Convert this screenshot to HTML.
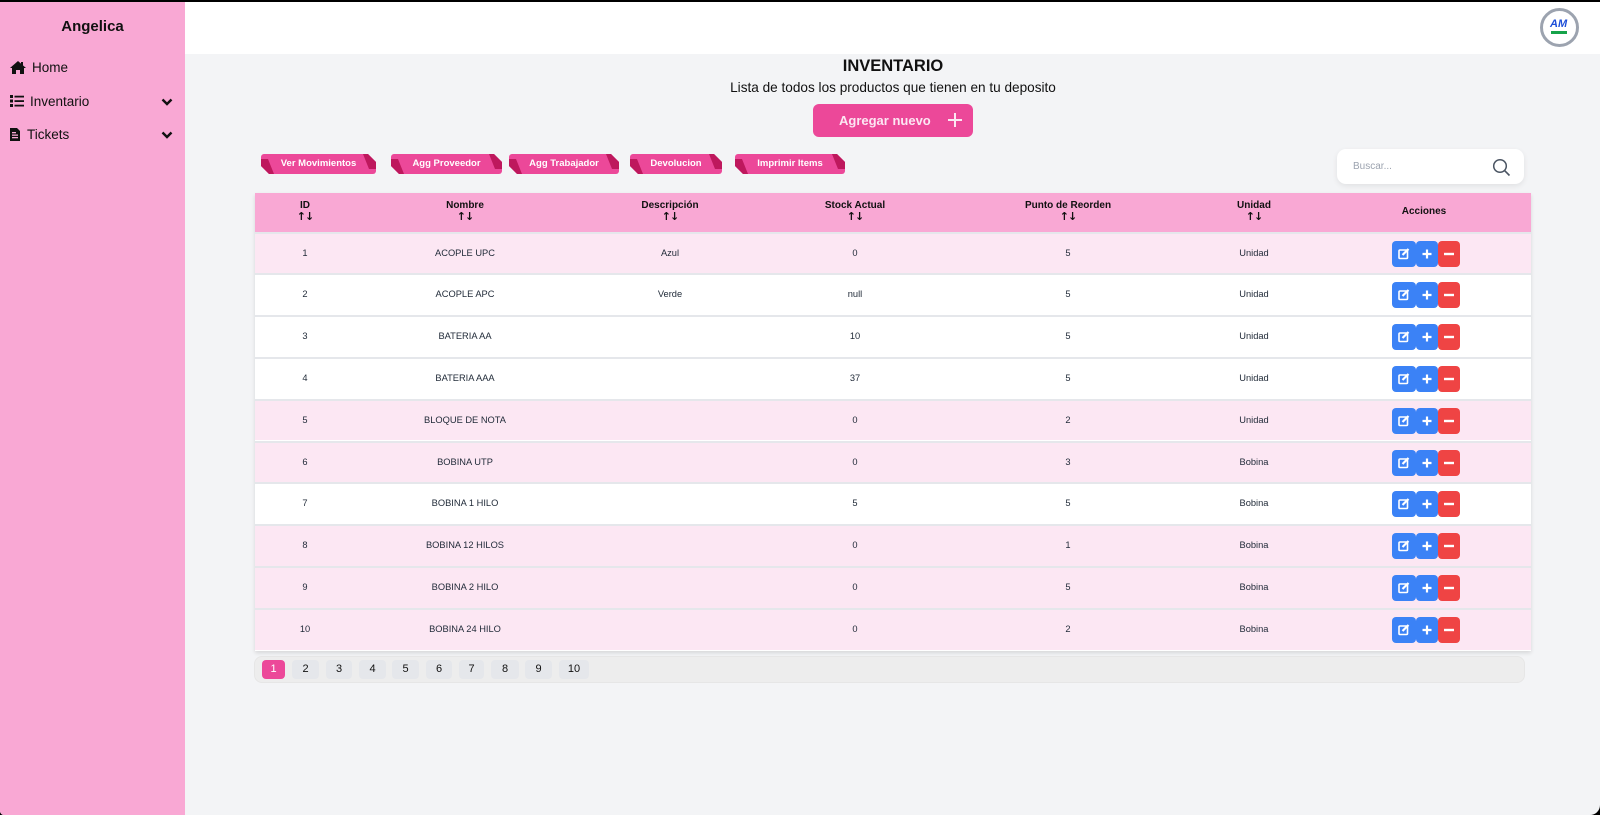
<!DOCTYPE html>
<html><head><meta charset="utf-8">
<style>
*{margin:0;padding:0;box-sizing:border-box}
html,body{width:1600px;height:815px;overflow:hidden;background:#000;font-family:"Liberation Sans",sans-serif}
#page{position:absolute;left:0;top:2px;width:1600px;height:813px;background:#f3f4f6;border-bottom-right-radius:10px;border-bottom-left-radius:4px;overflow:hidden}
#side{position:absolute;left:0;top:0;width:185px;height:813px;background:#f9a8d4}
#side .title{position:absolute;left:0;width:185px;top:16px;text-align:center;font-weight:bold;font-size:15px;color:#111}
#side .item{position:absolute;left:10px;font-size:13.5px;color:#111;display:flex;align-items:center}
#side .chev{position:absolute;left:161px}
#header{position:absolute;left:185px;top:0;width:1415px;height:52px;background:#fff}
.abs{position:absolute}
.ribbon{position:absolute;top:152px;height:20px;color:#fff;font-weight:bold;font-size:9.5px;text-align:center;line-height:20px}
.ribbon .body{position:absolute;inset:0;background:#ec4899;border-radius:3px;clip-path:polygon(0 0,calc(100% - 8px) 0,100% 8px,100% 100%,8px 100%,0 calc(100% - 8px))}
.ribbon .lf{position:absolute;left:0;top:5px;width:13px;height:15px;background:#be185d;clip-path:polygon(0 0,7px 0,13px 15px,8px 15px,0 7px)}
.ribbon .rf{position:absolute;right:0;top:0;width:13px;height:15px;background:#be185d;clip-path:polygon(0 0,5px 0,13px 8px,13px 15px,6px 15px)}
.ribbon span{position:relative}
#table{position:absolute;left:255px;top:190.5px;width:1276px;height:458px;background:#fff;box-shadow:0 2px 4px rgba(0,0,0,0.12)}
.hrow{position:absolute;left:0;top:0;width:1276px;height:39px;background:#f9a8d4}
.row{position:absolute;left:0;width:1276px;height:41.8px;border-top:2px solid #e5e7eb}
.cell{position:absolute;top:0;height:39.8px;line-height:39.8px;text-align:center;font-size:9.3px;color:#1f2937}
.hcell{position:absolute;top:0;height:39px;text-align:center;font-size:10px;font-weight:bold;color:#111}
.hcell .l{position:absolute;left:0;right:0;top:7px}
.hcell .a{position:absolute;left:0;right:0;top:17px;font-size:11px;font-family:"DejaVu Sans",sans-serif;font-weight:bold;letter-spacing:-1px}
.btns{position:absolute;left:1137px;top:7px;width:70px;height:26px}
.b{position:absolute;top:0;height:26px;border-radius:4px;color:#fff;text-align:center}
.pg{position:absolute;top:658px;height:19px;background:#e5e7eb;border-radius:4px;font-size:11px;line-height:19px;text-align:center;color:#111}
</style></head><body>
<div id="page">
  <div id="header"></div>
  <div id="side">
    <div class="title">Angelica</div>
    <div class="item" style="top:58px">
      <svg width="16" height="13" viewBox="0 0 16 13"><path d="M8 0 L16 7 L14 7 L14 13 L10 13 L10 9 L6 9 L6 13 L2 13 L2 7 L0 7 Z" fill="#111"/><rect x="11" y="1" width="2" height="4" fill="#111"/></svg>
      <span style="margin-left:6px">Home</span>
    </div>
    <div class="item" style="top:91.5px">
      <svg width="14" height="12" viewBox="0 0 14 12"><rect x="0" y="0" width="3" height="3" fill="#111"/><rect x="0" y="4.5" width="3" height="3" fill="#111"/><rect x="0" y="9" width="3" height="3" fill="#111"/><rect x="4.5" y="0.7" width="9.5" height="1.8" fill="#111"/><rect x="4.5" y="5.2" width="9.5" height="1.8" fill="#111"/><rect x="4.5" y="9.7" width="9.5" height="1.8" fill="#111"/></svg>
      <span style="margin-left:6px">Inventario</span>
    </div>
    <svg class="chev" style="top:96px" width="12" height="8" viewBox="0 0 12 8"><path d="M1.5 1.5 L6 6 L10.5 1.5" stroke="#111" stroke-width="2.4" fill="none"/></svg>
    <div class="item" style="top:125px">
      <svg width="10" height="13" viewBox="0 0 10 13"><path d="M0 0 H7 L10 3 V13 H0 Z" fill="#111"/><rect x="2" y="4" width="4" height="1.3" fill="#f9a8d4"/><rect x="2" y="6.5" width="6" height="1.3" fill="#f9a8d4"/><rect x="2" y="9" width="6" height="1.3" fill="#f9a8d4"/></svg>
      <span style="margin-left:7px">Tickets</span>
    </div>
    <svg class="chev" style="top:129px" width="12" height="8" viewBox="0 0 12 8"><path d="M1.5 1.5 L6 6 L10.5 1.5" stroke="#111" stroke-width="2.4" fill="none"/></svg>
  </div>

  <!-- logo -->
  <div class="abs" style="left:1540px;top:6px;width:39px;height:39px;border-radius:50%;border:3px solid #9ca3af;background:#fff"></div>
  <div class="abs" style="left:1550px;top:16px;font-size:11px;font-weight:bold;font-style:italic;color:#1d4ed8">AM</div>
  <div class="abs" style="left:1551px;top:29px;width:16px;height:3px;background:#16a34a"></div>

  <div class="abs" style="left:0;width:1786px;top:55px;text-align:center;font-size:16.5px;font-weight:bold;color:#111">INVENTARIO</div>
  <div class="abs" style="left:0;width:1786px;top:78px;text-align:center;font-size:13.6px;color:#111">Lista de todos los productos que tienen en tu deposito</div>

  <div class="abs" style="left:813px;top:102px;width:160px;height:33px;background:#ec4899;border-radius:6px"></div>
  <div class="abs" style="left:839px;top:111px;font-size:13px;font-weight:bold;color:#fce7f3">Agregar nuevo</div>
  <div class="abs" style="left:948px;top:117px;width:14px;height:2px;background:#fce7f3"></div>
  <div class="abs" style="left:954px;top:111px;width:2px;height:14px;background:#fce7f3"></div>

  <div class="ribbon" style="left:261px;width:115px"><div class="body"></div><div class="lf"></div><div class="rf"></div><span>Ver Movimientos</span></div>
  <div class="ribbon" style="left:391px;width:111px"><div class="body"></div><div class="lf"></div><div class="rf"></div><span>Agg Proveedor</span></div>
  <div class="ribbon" style="left:509px;width:110px"><div class="body"></div><div class="lf"></div><div class="rf"></div><span>Agg Trabajador</span></div>
  <div class="ribbon" style="left:630px;width:92px"><div class="body"></div><div class="lf"></div><div class="rf"></div><span>Devolucion</span></div>
  <div class="ribbon" style="left:735px;width:110px"><div class="body"></div><div class="lf"></div><div class="rf"></div><span>Imprimir Items</span></div>

  <div class="abs" style="left:1337px;top:147px;width:187px;height:35px;background:#fff;border-radius:9px;box-shadow:0 2px 6px rgba(0,0,0,0.08)"></div>
  <div class="abs" style="left:1353px;top:159px;font-size:10px;color:#9ca3af">Buscar...</div>
  <svg class="abs" style="left:1492px;top:156px" width="20" height="20" viewBox="0 0 20 20"><circle cx="8" cy="8" r="6.3" stroke="#4b5563" stroke-width="1.5" fill="none"/><path d="M12.6 12.6 L17.5 17.5" stroke="#4b5563" stroke-width="1.6"/></svg>

  <div id="table">
    <div class="hrow">
      <div class="hcell" style="left:0;width:100px"><div class="l">ID</div><div class="a">↑↓</div></div>
      <div class="hcell" style="left:100px;width:220px"><div class="l">Nombre</div><div class="a">↑↓</div></div>
      <div class="hcell" style="left:320px;width:190px"><div class="l">Descripción</div><div class="a">↑↓</div></div>
      <div class="hcell" style="left:510px;width:180px"><div class="l">Stock Actual</div><div class="a">↑↓</div></div>
      <div class="hcell" style="left:690px;width:246px"><div class="l">Punto de Reorden</div><div class="a">↑↓</div></div>
      <div class="hcell" style="left:936px;width:126px"><div class="l">Unidad</div><div class="a">↑↓</div></div>
      <div class="hcell" style="left:1062px;width:214px"><div class="l" style="top:13px">Acciones</div></div>
    </div>
    <!-- rows -->
    <div class="row" style="top:39px;background:#fce7f3"><div class="cell" style="left:0;width:100px">1</div><div class="cell" style="left:100px;width:220px">ACOPLE UPC</div><div class="cell" style="left:320px;width:190px">Azul</div><div class="cell" style="left:510px;width:180px">0</div><div class="cell" style="left:690px;width:246px">5</div><div class="cell" style="left:936px;width:126px">Unidad</div><div class="btns"><div class="b" style="left:0;width:24px;background:#3b82f6"></div><div class="b" style="left:24px;width:22px;background:#3b82f6"></div><div class="b" style="left:46px;width:22px;background:#ef4444"></div></div></div>
    <div class="row" style="top:80.8px;background:#fff"><div class="cell" style="left:0;width:100px">2</div><div class="cell" style="left:100px;width:220px">ACOPLE APC</div><div class="cell" style="left:320px;width:190px">Verde</div><div class="cell" style="left:510px;width:180px">null</div><div class="cell" style="left:690px;width:246px">5</div><div class="cell" style="left:936px;width:126px">Unidad</div><div class="btns"><div class="b" style="left:0;width:24px;background:#3b82f6"></div><div class="b" style="left:24px;width:22px;background:#3b82f6"></div><div class="b" style="left:46px;width:22px;background:#ef4444"></div></div></div>
    <div class="row" style="top:122.6px;background:#fff"><div class="cell" style="left:0;width:100px">3</div><div class="cell" style="left:100px;width:220px">BATERIA AA</div><div class="cell" style="left:320px;width:190px"></div><div class="cell" style="left:510px;width:180px">10</div><div class="cell" style="left:690px;width:246px">5</div><div class="cell" style="left:936px;width:126px">Unidad</div><div class="btns"><div class="b" style="left:0;width:24px;background:#3b82f6"></div><div class="b" style="left:24px;width:22px;background:#3b82f6"></div><div class="b" style="left:46px;width:22px;background:#ef4444"></div></div></div>
    <div class="row" style="top:164.4px;background:#fff"><div class="cell" style="left:0;width:100px">4</div><div class="cell" style="left:100px;width:220px">BATERIA AAA</div><div class="cell" style="left:320px;width:190px"></div><div class="cell" style="left:510px;width:180px">37</div><div class="cell" style="left:690px;width:246px">5</div><div class="cell" style="left:936px;width:126px">Unidad</div><div class="btns"><div class="b" style="left:0;width:24px;background:#3b82f6"></div><div class="b" style="left:24px;width:22px;background:#3b82f6"></div><div class="b" style="left:46px;width:22px;background:#ef4444"></div></div></div>
    <div class="row" style="top:206.2px;background:#fce7f3"><div class="cell" style="left:0;width:100px">5</div><div class="cell" style="left:100px;width:220px">BLOQUE DE NOTA</div><div class="cell" style="left:320px;width:190px"></div><div class="cell" style="left:510px;width:180px">0</div><div class="cell" style="left:690px;width:246px">2</div><div class="cell" style="left:936px;width:126px">Unidad</div><div class="btns"><div class="b" style="left:0;width:24px;background:#3b82f6"></div><div class="b" style="left:24px;width:22px;background:#3b82f6"></div><div class="b" style="left:46px;width:22px;background:#ef4444"></div></div></div>
    <div class="row" style="top:248px;background:#fce7f3"><div class="cell" style="left:0;width:100px">6</div><div class="cell" style="left:100px;width:220px">BOBINA UTP</div><div class="cell" style="left:320px;width:190px"></div><div class="cell" style="left:510px;width:180px">0</div><div class="cell" style="left:690px;width:246px">3</div><div class="cell" style="left:936px;width:126px">Bobina</div><div class="btns"><div class="b" style="left:0;width:24px;background:#3b82f6"></div><div class="b" style="left:24px;width:22px;background:#3b82f6"></div><div class="b" style="left:46px;width:22px;background:#ef4444"></div></div></div>
    <div class="row" style="top:289.8px;background:#fff"><div class="cell" style="left:0;width:100px">7</div><div class="cell" style="left:100px;width:220px">BOBINA 1 HILO</div><div class="cell" style="left:320px;width:190px"></div><div class="cell" style="left:510px;width:180px">5</div><div class="cell" style="left:690px;width:246px">5</div><div class="cell" style="left:936px;width:126px">Bobina</div><div class="btns"><div class="b" style="left:0;width:24px;background:#3b82f6"></div><div class="b" style="left:24px;width:22px;background:#3b82f6"></div><div class="b" style="left:46px;width:22px;background:#ef4444"></div></div></div>
    <div class="row" style="top:331.6px;background:#fce7f3"><div class="cell" style="left:0;width:100px">8</div><div class="cell" style="left:100px;width:220px">BOBINA 12 HILOS</div><div class="cell" style="left:320px;width:190px"></div><div class="cell" style="left:510px;width:180px">0</div><div class="cell" style="left:690px;width:246px">1</div><div class="cell" style="left:936px;width:126px">Bobina</div><div class="btns"><div class="b" style="left:0;width:24px;background:#3b82f6"></div><div class="b" style="left:24px;width:22px;background:#3b82f6"></div><div class="b" style="left:46px;width:22px;background:#ef4444"></div></div></div>
    <div class="row" style="top:373.4px;background:#fce7f3"><div class="cell" style="left:0;width:100px">9</div><div class="cell" style="left:100px;width:220px">BOBINA 2 HILO</div><div class="cell" style="left:320px;width:190px"></div><div class="cell" style="left:510px;width:180px">0</div><div class="cell" style="left:690px;width:246px">5</div><div class="cell" style="left:936px;width:126px">Bobina</div><div class="btns"><div class="b" style="left:0;width:24px;background:#3b82f6"></div><div class="b" style="left:24px;width:22px;background:#3b82f6"></div><div class="b" style="left:46px;width:22px;background:#ef4444"></div></div></div>
    <div class="row" style="top:415.2px;background:#fce7f3;height:42.8px"><div class="cell" style="left:0;width:100px">10</div><div class="cell" style="left:100px;width:220px">BOBINA 24 HILO</div><div class="cell" style="left:320px;width:190px"></div><div class="cell" style="left:510px;width:180px">0</div><div class="cell" style="left:690px;width:246px">2</div><div class="cell" style="left:936px;width:126px">Bobina</div><div class="btns"><div class="b" style="left:0;width:24px;background:#3b82f6"></div><div class="b" style="left:24px;width:22px;background:#3b82f6"></div><div class="b" style="left:46px;width:22px;background:#ef4444"></div></div></div>
  </div>

  <div class="abs" style="left:254px;top:654px;width:1271px;height:27px;background:#ededed;border:1px solid #e6e6e6;border-radius:8px"></div>
  <div class="pg" style="left:262px;width:23px;background:#ec4899;color:#fff">1</div>
  <div class="pg" style="left:292px;width:27px">2</div>
  <div class="pg" style="left:326px;width:26px">3</div>
  <div class="pg" style="left:359px;width:27px">4</div>
  <div class="pg" style="left:392px;width:27px">5</div>
  <div class="pg" style="left:426px;width:26px">6</div>
  <div class="pg" style="left:459px;width:25px">7</div>
  <div class="pg" style="left:491px;width:28px">8</div>
  <div class="pg" style="left:525px;width:27px">9</div>
  <div class="pg" style="left:559px;width:30px">10</div>
</div>
<script>
document.querySelectorAll('.btns').forEach(function(b){
  var k=b.children;
  k[0].innerHTML='<svg width="24" height="26" viewBox="0 0 24 26"><rect x="7" y="9" width="8.5" height="8.5" rx="1" stroke="#fff" stroke-width="1.6" fill="none"/><path d="M10.5 14 L16.5 8" stroke="#fff" stroke-width="2.2"/></svg>';
  k[1].innerHTML='<svg width="22" height="26" viewBox="0 0 22 26"><path d="M11 8.5 V17.5 M6.5 13 H15.5" stroke="#fff" stroke-width="2.2"/></svg>';
  k[2].innerHTML='<svg width="22" height="26" viewBox="0 0 22 26"><path d="M6 13 H16" stroke="#fff" stroke-width="2.4"/></svg>';
});
</script>
</body></html>
